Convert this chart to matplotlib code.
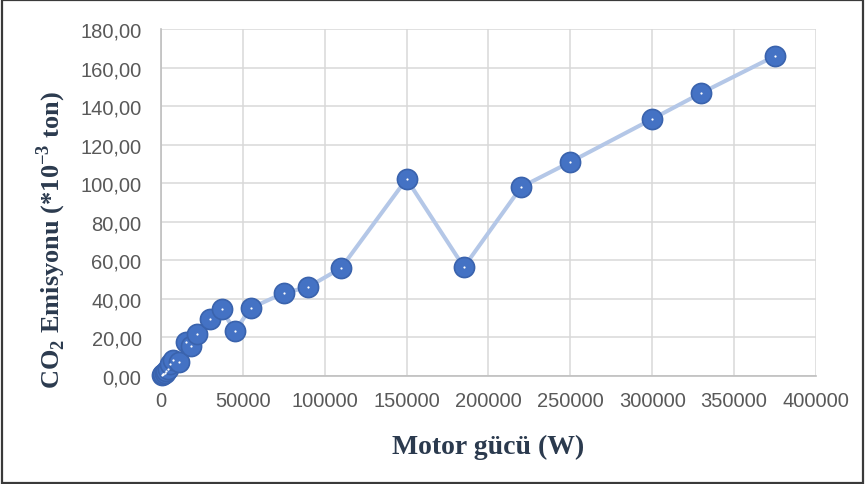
import matplotlib.pyplot as plt
from matplotlib.patches import Rectangle
from matplotlib.ticker import FuncFormatter, MultipleLocator

# Motor power (W) and CO2 emission (*10^-3 ton)
motor_power = [750, 1100, 1500, 2200, 3000, 4000, 5500, 7500, 11000, 15000,
               18500, 22000, 30000, 37000, 45000, 55000, 75000, 90000, 110000,
               150000, 185000, 220000, 250000, 300000, 330000, 375000]
co2_emission = [0.5, 0.8, 1.2, 1.8, 2.5, 3.5, 6.0, 8.5, 7.3, 17.8,
                15.6, 21.8, 29.6, 34.8, 23.3, 35.3, 43.0, 46.2, 56.0,
                102.2, 56.5, 98.0, 111.0, 133.3, 146.8, 166.0]

plt.rcParams['mathtext.fontset'] = 'custom'
plt.rcParams['mathtext.rm'] = 'Liberation Serif:bold'
plt.rcParams['mathtext.bf'] = 'Liberation Serif:bold'

fig = plt.figure(figsize=(8.65, 4.85), dpi=100)
ax = fig.add_axes([0.1861, 0.2227, 0.7572, 0.7155])

# line first, then markers with a small white centre dot
ax.plot(motor_power, co2_emission, color='#B4C7E7', lw=2.9, zorder=2,
        clip_on=False, solid_capstyle='round')
ax.plot(motor_power, co2_emission, ls='none', marker='o', ms=14.5,
        mfc='#4472C4', mec='#3A63AD', mew=1.2, zorder=3, clip_on=False)
ax.plot(motor_power, co2_emission, ls='none', marker='o', ms=1.6,
        mfc='white', mec='none', zorder=4, clip_on=False)

ax.set_xlim(0, 400000)
ax.set_ylim(0, 180)
ax.xaxis.set_major_locator(MultipleLocator(50000))
ax.yaxis.set_major_locator(MultipleLocator(20))
ax.yaxis.set_major_formatter(FuncFormatter(lambda v, p: f'{v:.2f}'.replace('.', ',')))
ax.xaxis.set_major_formatter(FuncFormatter(lambda v, p: f'{int(v)}'))

ax.grid(True, color='#D9D9D9', lw=1.1, zorder=0)
ax.set_axisbelow(True)
for side in ['top', 'right']:
    ax.spines[side].set_visible(False)
for side in ['left', 'bottom']:
    ax.spines[side].set_color('#BFBFBF')
    ax.spines[side].set_linewidth(1.2)

ax.tick_params(length=0, labelsize=14.5, labelcolor='#595959')
ax.tick_params(axis='y', pad=14)
ax.tick_params(axis='x', pad=11)
for lbl in ax.get_xticklabels() + ax.get_yticklabels():
    lbl.set_family('Liberation Sans')

fig.text(0.5642, 0.078, 'Motor gücü (W)', ha='center', va='center',
         family='Liberation Serif', weight='bold', fontsize=20, color='#2B3A4E')
fig.text(0.059, 0.505, r'CO$_\mathbf{2}$ Emisyonu (*10$^{\mathbf{-3}}$ ton)',
         ha='center', va='center', rotation=90, family='Liberation Serif',
         weight='bold', fontsize=19, color='#2B3A4E')

# outer frame
fig.patches.append(Rectangle((0.002, 0.003), 0.996, 0.994, transform=fig.transFigure,
                             fill=False, edgecolor='#3A3A3A', lw=1.6))

fig.savefig('out.png', dpi=100)
